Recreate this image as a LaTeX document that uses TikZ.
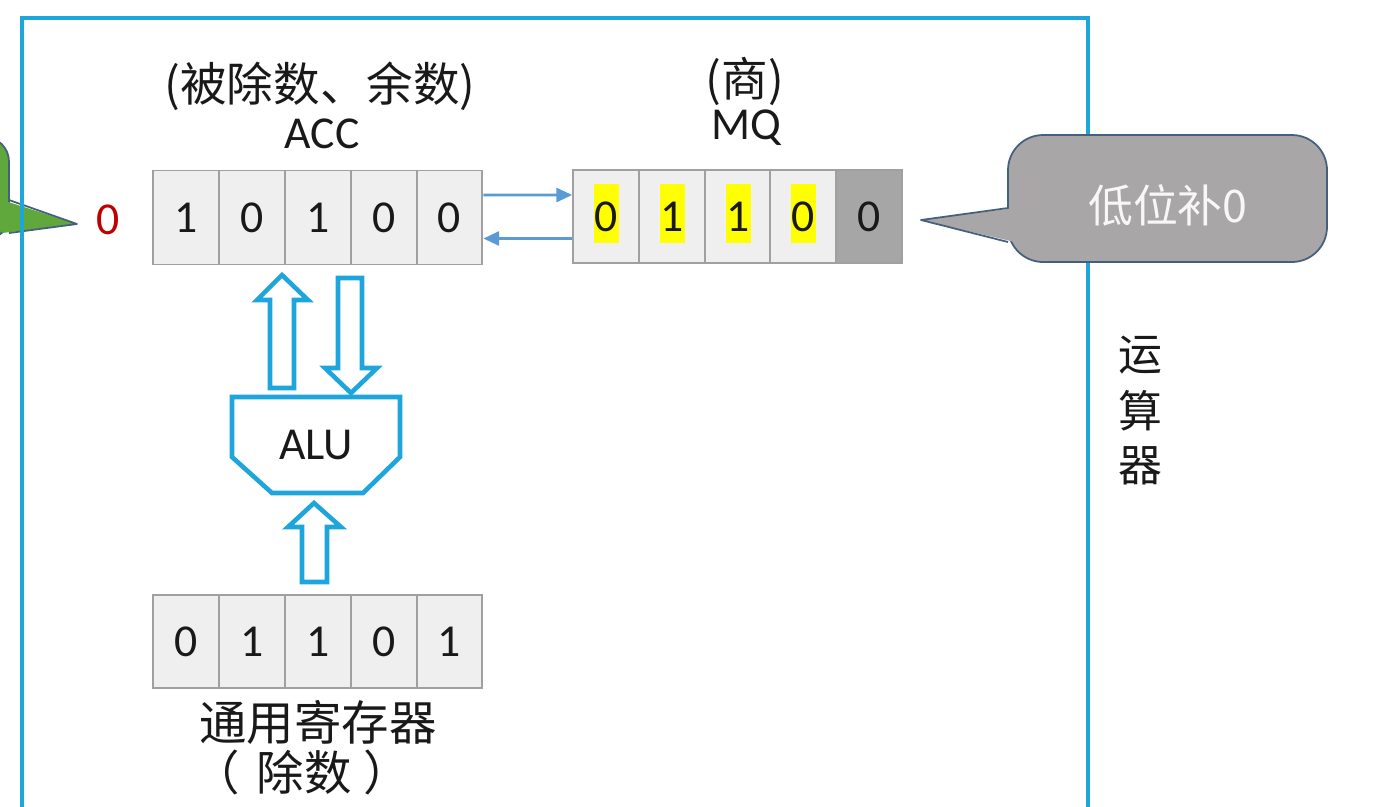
\documentclass[tikz,border=0pt]{standalone}
\usepackage{fontspec}
\setmainfont{Carlito}
\newfontfamily\cjk{Noto Sans CJK SC}
\usetikzlibrary{arrows.meta}
\definecolor{frameblue}{RGB}{30,165,220}
\definecolor{cellfill}{RGB}{239,239,239}
\definecolor{cellline}{RGB}{160,160,160}
\definecolor{darkcell}{RGB}{166,166,166}
\definecolor{hlyellow}{RGB}{255,255,0}
\definecolor{thinblue}{RGB}{91,155,213}
\definecolor{calloutgray}{RGB}{168,166,166}
\definecolor{calloutline}{RGB}{68,96,124}
\definecolor{greenfill}{RGB}{96,168,60}
\definecolor{darkred}{RGB}{192,0,0}
\definecolor{ink}{RGB}{25,25,25}
\tikzset{
  cell/.style={draw=cellline, line width=1.1pt, fill=cellfill, minimum width=1.316cm,
    minimum height=1.88cm, inner sep=0pt, text=ink, font=\fontsize{26}{30}\selectfont},
  darkcellbox/.style={cell, fill=darkcell},
  hl/.style={path picture={\fill[hlyellow] ([shift={(-0.25cm,-0.52cm)}]path picture bounding box.center) rectangle ++(0.5cm,1.18cm);}},
  label/.style={text=ink, font=\fontsize{26}{30}\selectfont, inner sep=0pt},
  cjklabel/.style={text=ink, font=\cjk\fontsize{26.5}{30}\selectfont, inner sep=0pt},
  thinarrow/.style={draw=thinblue, line width=1.5pt, -{Triangle[length=9pt,width=8pt]}},
  hollow/.style={draw=frameblue, line width=2.6pt, fill=white, line join=miter},
  frame/.style={draw=frameblue, line width=2.4pt}
}
\begin{document}
\begin{tikzpicture}[x=0.02cm,y=-0.02cm]
\useasboundingbox (0,0) rectangle (1379,806);
\clip (0,0) rectangle (1379,806);
\fill[white] (0,0) rectangle (1379,806);

% green callout on the left (partially outside)
\draw[draw=calloutline, line width=1pt, fill=greenfill, rounded corners=14pt] (-120,137) rectangle (9,240);
\fill[greenfill] (2,200) -- (77,224) -- (2,233) -- cycle;
\draw[calloutline, line width=1pt, line join=round] (9,200) -- (77,224) -- (9,233);

% outer frame (运算器)
\draw[frame] (22,18) rectangle (1088,840);

% red shifted-out bit
\node[text=darkred, font=\fontsize{26}{30}\selectfont, inner sep=0pt] (out0) at (108,220) {0};

% ACC register
\node[cell] (a1) at (186,217.5) {1};
\node[cell] (a2) at (252,217.5) {0};
\node[cell] (a3) at (318,217.5) {1};
\node[cell] (a4) at (384,217.5) {0};
\node[cell] (a5) at (449.5,217.5) {0};
\node[cjklabel] (acclab1) at (320,86) {(被除数、余数)};
\node[label] (acclab2) at (322,134) {ACC};

% MQ register
\node[cell, hl, minimum height=1.86cm] (m1) at (606,216.5) {0};
\node[cell, hl, minimum height=1.86cm] (m2) at (672,216.5) {1};
\node[cell, hl, minimum height=1.86cm] (m3) at (738,216.5) {1};
\node[cell, hl, minimum height=1.86cm] (m4) at (803,216.5) {0};
\node[darkcellbox, minimum height=1.86cm] (m5) at (869,216.5) {0};
\node[cjklabel] (mqlab1) at (745,81) {(商)};
\node[label] (mqlab2) at (746,128) {MQ};

% transfer arrows ACC <-> MQ
\draw[thinarrow] ([yshift=0.45cm]a5.east) -- ([yshift=0.43cm]m1.west);
\draw[thinarrow] ([yshift=-0.44cm]m1.west) -- ([yshift=-0.42cm]a5.east);

% gray callout 低位补0
\draw[draw=calloutline, line width=1pt, fill=calloutgray, rounded corners=20pt] (1008,135) rectangle (1327,262);
\fill[calloutgray] (1015,208) -- (921,220) -- (1015,242) -- cycle;
\draw[calloutline, line width=1pt, line join=round] (1008,208) -- (921,220) -- (1008,242);
\node[font=\cjk\fontsize{25.5}{30}\selectfont, text=white!94!gray, inner sep=0pt] (lowfill) at (1168,205) {低位补0};

% 运算器 vertical label
\node[font=\cjk\fontsize{25}{30}\selectfont, text=ink, inner sep=0pt] (yun) at (1140,355) {运};
\node[font=\cjk\fontsize{25}{30}\selectfont, text=ink, inner sep=0pt] (suan) at (1140,411) {算};
\node[font=\cjk\fontsize{25}{30}\selectfont, text=ink, inner sep=0pt] (qi) at (1140,466) {器};

% hollow arrows ALU <-> ACC
\draw[hollow] (270,388) -- (270,300) -- (257,300) -- (282,275) -- (308,300) -- (294,300) -- (294,388) -- cycle;
\draw[hollow] (338,278) -- (338,368) -- (325,368) -- (351,393) -- (377,368) -- (362,368) -- (362,278) -- cycle;

% ALU
\draw[hollow] (232,397) -- (400,397) -- (400,457) -- (363,493) -- (272,493) -- (232,457) -- cycle;
\node[label] (alu) at (316,445) {ALU};

% hollow arrow register -> ALU
\draw[hollow] (302,582) -- (302,527) -- (288,527) -- (314,503) -- (341,527) -- (327,527) -- (327,582) -- cycle;

% general purpose register (divisor)
\node[cell, minimum height=1.86cm] (r1) at (186,641.5) {0};
\node[cell, minimum height=1.86cm] (r2) at (252,641.5) {1};
\node[cell, minimum height=1.86cm] (r3) at (318,641.5) {1};
\node[cell, minimum height=1.86cm] (r4) at (384,641.5) {0};
\node[cell, minimum height=1.86cm] (r5) at (449.5,641.5) {1};
\node[cjklabel, font=\cjk\fontsize{27}{30}\selectfont] (reglab1) at (318,722) {通用寄存器};
\node[cjklabel, font=\cjk\fontsize{27}{30}\selectfont] (reglab2) at (302,772) {（\hspace{0.35em}除数\hspace{0.25em}）};
\end{tikzpicture}
\end{document}
